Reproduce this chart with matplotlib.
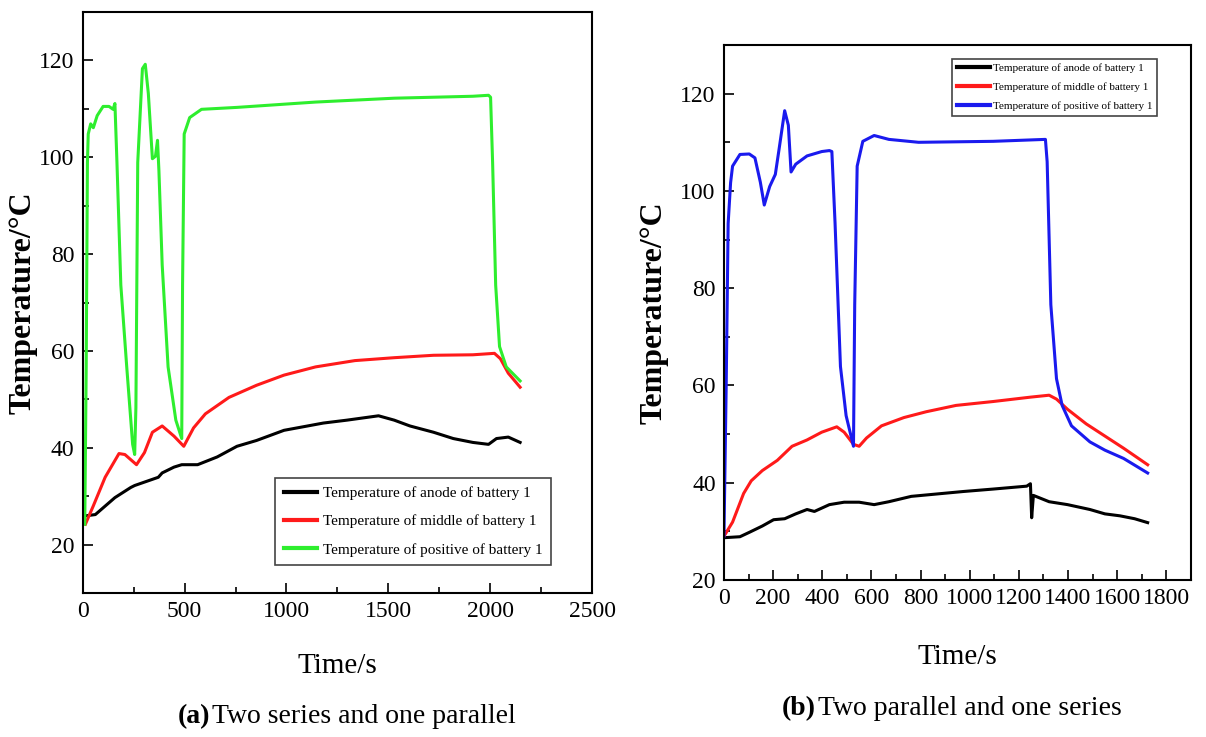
import matplotlib
matplotlib.use('Agg')
import matplotlib.pyplot as plt
from matplotlib.ticker import MultipleLocator

plt.rcParams['font.family'] = ['Liberation Serif', 'DejaVu Serif']

# ---- panel (a): two series and one parallel ----
a_anode_t = [8, 62, 158, 236, 255, 371, 390, 448, 486, 564, 660, 757, 853, 911, 988,
             1104, 1181, 1297, 1452, 1529, 1606, 1722, 1819, 1915, 1992, 2031, 2089, 2147]
a_anode_T = [25.9, 26.2, 29.7, 31.8, 32.2, 33.9, 34.8, 36.0, 36.5, 36.5, 38.1, 40.3, 41.5, 42.4, 43.6,
             44.5, 45.1, 45.7, 46.6, 45.7, 44.5, 43.2, 41.9, 41.1, 40.7, 41.9, 42.2, 41.1]

a_mid_t = [13, 52, 110, 178, 207, 264, 303, 342, 390, 448, 496, 544, 602, 718, 853,
           988, 1143, 1336, 1529, 1722, 1915, 2021, 2050, 2089, 2147]
a_mid_T = [24.2, 28.0, 33.9, 38.8, 38.6, 36.5, 39.0, 43.2, 44.5, 42.4, 40.3, 44.1, 47.0, 50.4, 52.9,
           55.0, 56.7, 58.0, 58.6, 59.1, 59.2, 59.5, 58.4, 55.4, 52.5]

a_pos_t = [10, 17, 23, 27, 39, 52, 71, 100, 129, 149, 158, 168, 187, 216, 245, 255, 261, 270,
           293, 307, 322, 342, 357, 367, 374, 390, 419, 457, 486, 490, 498, 525, 583, 757,
           1143, 1529, 1915, 1992, 2002, 2012, 2027, 2046, 2079, 2147]
a_pos_T = [24.2, 56.7, 98.9, 104.8, 106.9, 106.1, 108.6, 110.5, 110.5, 109.9, 111.1, 98.9, 73.6, 56.7,
           40.7, 38.6, 48.3, 98.9, 118.3, 119.2, 113.2, 99.7, 100.2, 103.5, 97.2, 77.8, 56.7, 45.7,
           41.9, 73.6, 104.8, 108.2, 109.9, 110.3, 111.4, 112.2, 112.6, 112.8, 112.4, 98.9, 73.6,
           60.9, 56.7, 53.8]

# ---- panel (b): two parallel and one series ----
b_anode_t = [0, 65, 103, 156, 202, 247, 292, 338, 368, 429, 489, 550, 611, 671, 762, 868, 974,
             1095, 1232, 1247, 1252, 1259, 1323, 1398, 1489, 1550, 1611, 1671, 1724]
b_anode_T = [28.7, 28.9, 29.8, 31.1, 32.4, 32.6, 33.6, 34.5, 34.1, 35.5, 36.0, 36.0, 35.5, 36.1,
             37.2, 37.7, 38.2, 38.7, 39.3, 39.8, 32.8, 37.4, 36.1, 35.5, 34.5, 33.6, 33.2, 32.6, 31.8]

b_mid_t = [0, 35, 80, 111, 156, 217, 277, 338, 398, 459, 489, 527, 550, 580, 641, 732, 823, 944,
           1095, 1247, 1323, 1353, 1398, 1474, 1550, 1626, 1724]
b_mid_T = [29.0, 31.9, 37.8, 40.4, 42.5, 44.6, 47.5, 48.8, 50.4, 51.5, 50.4, 47.9, 47.5, 49.2,
           51.7, 53.4, 54.6, 55.9, 56.7, 57.6, 58.0, 57.2, 55.1, 52.1, 49.6, 47.1, 43.7]

b_pos_t = [0, 9, 17, 27, 35, 65, 103, 126, 148, 164, 186, 209, 224, 247, 262, 273, 292, 338,
           398, 429, 439, 452, 474, 497, 527, 532, 542, 565, 611, 671, 792, 1095, 1308, 1315,
           1330, 1353, 1376, 1414, 1489, 1550, 1626, 1724]
b_pos_T = [29.0, 59.7, 93.3, 101.7, 105.1, 107.5, 107.6, 106.8, 101.8, 97.1, 100.9, 103.4, 108.5,
           116.5, 113.5, 103.9, 105.5, 107.2, 108.1, 108.3, 108.1, 93.4, 63.9, 53.8, 47.5, 76.6,
           105.1, 110.2, 111.4, 110.6, 110.0, 110.2, 110.6, 106.0, 76.6, 61.4, 55.9, 51.7, 48.4,
           46.7, 45.0, 42.0]

labels = ['Temperature of anode of battery 1',
          'Temperature of middle of battery 1',
          'Temperature of positive of battery 1']

fig = plt.figure(figsize=(12.06, 7.37), dpi=100)
ax1 = fig.add_axes([0.0686, 0.1954, 0.4223, 0.7883])
ax2 = fig.add_axes([0.6003, 0.2130, 0.3872, 0.7259])

lw = 2.2
ax1.plot(a_anode_t, a_anode_T, color='black', lw=lw, label=labels[0])
ax1.plot(a_mid_t, a_mid_T, color='#ff1a1a', lw=lw, label=labels[1])
ax1.plot(a_pos_t, a_pos_T, color='#2eee2e', lw=lw, label=labels[2])
ax1.set_xlim(0, 2500)
ax1.set_ylim(10, 130)
ax1.xaxis.set_major_locator(MultipleLocator(500))
ax1.xaxis.set_minor_locator(MultipleLocator(250))
ax1.yaxis.set_major_locator(MultipleLocator(20))
ax1.yaxis.set_minor_locator(MultipleLocator(10))

ax2.plot(b_anode_t, b_anode_T, color='black', lw=lw, label=labels[0])
ax2.plot(b_mid_t, b_mid_T, color='#ff1a1a', lw=lw, label=labels[1])
ax2.plot(b_pos_t, b_pos_T, color='#1a1aee', lw=lw, label=labels[2])
ax2.set_xlim(0, 1900)
ax2.set_ylim(20, 130)
ax2.xaxis.set_major_locator(MultipleLocator(200))
ax2.xaxis.set_minor_locator(MultipleLocator(100))
ax2.yaxis.set_major_locator(MultipleLocator(20))
ax2.yaxis.set_minor_locator(MultipleLocator(10))

for ax in (ax1, ax2):
    for s in ax.spines.values():
        s.set_linewidth(1.5)
    ax.tick_params(which='both', direction='in', top=False, right=False, width=1.2)
    ax.tick_params(which='major', length=7, labelsize=17, pad=6)
    ax.tick_params(which='minor', length=4)
    ax.set_ylabel('Temperature/°C', fontsize=23, fontweight='bold')

ax1.yaxis.set_label_coords(-0.088, 0.5)
ax2.yaxis.set_label_coords(-0.118, 0.5)
ax1.set_xlabel('Time/s', fontsize=21, labelpad=22)
ax2.set_xlabel('Time/s', fontsize=21, labelpad=25)

leg1 = ax1.legend(loc='lower right', bbox_to_anchor=(0.935, 0.035), fontsize=11,
                  handlelength=2.2, handletextpad=0.4, labelspacing=0.95,
                  fancybox=False, edgecolor='#444444', framealpha=1, borderpad=0.55)
leg1.get_frame().set_linewidth(1.2)
for h in leg1.get_lines():
    h.set_linewidth(3)

leg2 = ax2.legend(loc='upper right', bbox_to_anchor=(0.94, 0.985), fontsize=8,
                  handlelength=2.9, handletextpad=0.3, labelspacing=0.8,
                  fancybox=False, edgecolor='#444444', framealpha=1, borderpad=0.45)
leg2.get_frame().set_linewidth(1.2)
for h in leg2.get_lines():
    h.set_linewidth(3)

# captions under the panels
fig.text(0.174, 0.028, '(a)', fontsize=20, fontweight='bold', ha='right', va='center')
fig.text(0.176, 0.028, 'Two series and one parallel', fontsize=20, ha='left', va='center')
fig.text(0.676, 0.038, '(b)', fontsize=20, fontweight='bold', ha='right', va='center')
fig.text(0.678, 0.038, 'Two parallel and one series', fontsize=20, ha='left', va='center')

fig.savefig('out.png', dpi=100)
